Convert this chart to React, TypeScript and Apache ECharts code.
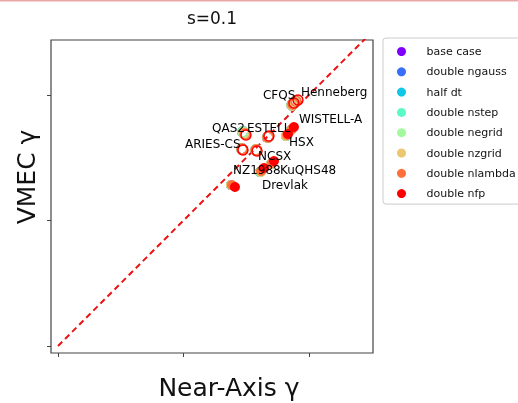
import React, { useEffect, useRef } from "react";
import * as echarts from "echarts";

const configs = ["Henneberg", "CFQS", "WISTELL-A", "HSX", "QAS2", "ESTELL", "ARIES-CS", "NCSX", "NZ1988", "KuQHS48", "Drevlak"];
const hollow = [true, true, false, false, true, true, true, true, false, false, false];

const seriesNames = ["base case", "double ngauss", "half dt", "double nstep", "double negrid", "double nzgrid", "double nlambda", "double nfp"];
const seriesColors = ["#8000ff", "#376ff9", "#12c7e6", "#5bf9c7", "#a4f99f", "#edc76f", "#ff6f39", "#ff0000"];

const baseX = [1.888, 1.865, 1.857, 1.817, 1.474, 1.673, 1.466, 1.578, 1.610, 1.697, 1.378];
const baseY = [1.944, 1.920, 1.721, 1.673, 1.705, 1.665, 1.570, 1.562, 1.386, 1.450, 1.283];
const nzgridX = [1.888, 1.865, 1.857, 1.817, 1.482, 1.673, 1.466, 1.578, 1.618, 1.697, 1.378];
const nzgridY = [1.944, 1.920, 1.721, 1.673, 1.697, 1.665, 1.570, 1.562, 1.386, 1.450, 1.283];
const nlambdaX = [1.896, 1.872, 1.865, 1.825, 1.490, 1.673, 1.466, 1.578, 1.618, 1.705, 1.386];
const nlambdaY = [1.952, 1.928, 1.729, 1.681, 1.689, 1.665, 1.570, 1.562, 1.394, 1.458, 1.283];
const nfpX = [1.912, 1.880, 1.880, 1.833, 1.498, 1.681, 1.474, 1.586, 1.641, 1.721, 1.410];
const nfpY = [1.960, 1.936, 1.745, 1.689, 1.681, 1.673, 1.562, 1.554, 1.418, 1.474, 1.267];

const seriesXs = [baseX, baseX, baseX, baseX, baseX, nzgridX, nlambdaX, nfpX];
const seriesYs = [baseY, baseY, baseY, baseY, baseY, nzgridY, nlambdaY, nfpY];

const xTicks = [0, 1, 2];
const yTicks = [0, 1, 2];
const diagonal = [[0, 0], [2.7, 2.7]];

// label placement (pixel offsets from the double-nfp point)
const labelOffsets = [[3, -8], [-31, -8], [5, -8], [1, 8], [-34, -7], [-22, -8], [-58, -6], [1, 5], [-31, 2], [6, 9], [27, -2]];

export default function App() {
  const ref = useRef<HTMLDivElement>(null);
  useEffect(() => {
    const chart = echarts.init(ref.current!, null, { renderer: "svg" });
    const scatterSeries = seriesNames.map((name, si) => ({
      type: "scatter",
      name,
      symbol: "circle",
      symbolSize: 10,
      color: seriesColors[si],
      z: 3 + si,
      itemStyle: { color: seriesColors[si], opacity: 1 },
      data: configs.map((c, i) => {
        const item: any = { value: [seriesXs[si][i], seriesYs[si][i]], name: c };
        if (hollow[i]) {
          item.itemStyle = { color: "rgba(255,255,255,0)", borderColor: seriesColors[si], borderWidth: 1.5, opacity: 1 };
        }
        if (si === seriesNames.length - 1) {
          item.label = {
            show: true,
            formatter: c,
            position: "inside",
            align: "left",
            verticalAlign: "middle",
            offset: labelOffsets[i],
            color: "#000",
            fontSize: 12,
            fontFamily: "DejaVu Sans",
          };
        }
        return item;
      }),
    }));
    chart.setOption({
      animation: false,
      grid: { left: 51, top: 40, right: 145, bottom: 50, show: true, borderColor: "#444", borderWidth: 1.2 },
      xAxis: {
        type: "value",
        min: -0.0558,
        max: 2.51,
        axisLine: { show: false, onZero: false },
        axisLabel: { show: false },
        splitLine: { show: false },
        axisTick: { show: true, inside: false, length: 4, customValues: xTicks, lineStyle: { color: "#444" } },
      },
      yAxis: {
        type: "value",
        min: -0.0558,
        max: 2.438,
        axisLine: { show: false, onZero: false },
        axisLabel: { show: false },
        splitLine: { show: false },
        axisTick: { show: true, inside: false, length: 4, customValues: yTicks, lineStyle: { color: "#444" } },
      },
      legend: {
        data: seriesNames.map((n, i) => ({ name: n, itemStyle: { color: seriesColors[i], borderWidth: 0, opacity: 1 } })),
        orient: "vertical",
        left: 383,
        top: 38,
        icon: "circle",
        itemWidth: 40,
        itemHeight: 9,
        itemGap: 9.3,
        padding: [8, 6, 5, 14],
        borderColor: "#ccc",
        borderWidth: 1,
        borderRadius: 3,
        textStyle: { fontSize: 11, fontFamily: "DejaVu Sans", color: "#111" },
        selectedMode: false,
      },
      series: [
        {
          type: "line",
          name: "diag",
          data: diagonal,
          symbol: "none",
          z: 2,
          lineStyle: { color: "#ee1111", width: 2, type: [6, 4] },
        },
        ...scatterSeries,
      ],
      graphic: [
        { type: "rect", shape: { x: 0, y: 0, width: 518, height: 1.5 }, style: { fill: "#e8a8a8" } },
        { type: "text", x: 212, y: 18, style: { text: "s=0.1", fontSize: 17, fontFamily: "DejaVu Sans", fill: "#111", align: "center", verticalAlign: "middle" } },
        { type: "text", x: 229, y: 387, style: { text: "Near-Axis γ", fontSize: 25, fontFamily: "DejaVu Sans", fill: "#111", align: "center", verticalAlign: "middle" } },
        { type: "text", x: 26, y: 177, rotation: Math.PI / 2, style: { text: "VMEC γ", fontSize: 25, fontFamily: "DejaVu Sans", fill: "#111", align: "center", verticalAlign: "middle" } },
      ],
    });
    return () => chart.dispose();
  }, []);
  return <div ref={ref} style={{ position: "fixed", left: 0, top: 0, width: 518, height: 403 }} />;
}
